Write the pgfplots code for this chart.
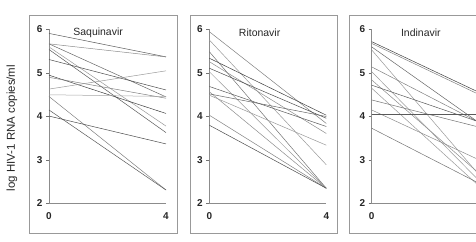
\documentclass[border=0pt]{standalone}
\usepackage{fontspec}
\setmainfont{Liberation Sans}
\usepackage{pgfplots}
\pgfplotsset{compat=1.18}
\pgfplotsset{panel/.style={
  scale only axis, width=117bp, height=174bp,
  xmin=0, xmax=4, ymin=2, ymax=6, anchor=south west,
  axis x line*=bottom, axis y line*=left,
  axis line style={-, draw=black!45, line width=0.8bp},
  xtick={0,4}, ytick={2,3,4,5,6},
  tick align=outside, major tick length=3bp,
  xtick style={draw=none}, ytick style={draw=black!55, line width=0.6bp},
  /pgf/number format/assume math mode=true,
  tick label style={font=\bfseries\fontsize{10}{10}\selectfont, text=black!85},
  xticklabel style={yshift=-3bp},
  clip=false,
  every axis plot/.append style={line width=0.5bp, no marks},
}}
\begin{document}
\begin{tikzpicture}[x=1bp,y=1bp]
\begin{scope}
\clip (0,0) rectangle (476,241);
\draw[black!40, line width=0.8bp] (29,8) rectangle (177,226);
\draw[black!40, line width=0.8bp] (190,8) rectangle (337,226);
\draw[black!40, line width=0.8bp] (349,8) rectangle (530,226);

\begin{axis}[panel, at={(49bp,37.5bp)}]
\addplot[black!65] coordinates {(0,5.91) (4,5.37)};
\addplot[black!45] coordinates {(0,5.67) (4,5.37)};
\addplot[black!60] coordinates {(0,5.67) (4,4.45)};
\addplot[black!40] coordinates {(0,5.60) (4,3.78)};
\addplot[black!65] coordinates {(0,5.54) (4,3.63)};
\addplot[black!70] coordinates {(0,5.31) (4,4.61)};
\addplot[black!75] coordinates {(0,4.95) (4,4.07)};
\addplot[black!50] coordinates {(0,4.90) (4,4.42)};
\addplot[black!40] coordinates {(0,4.63) (4,5.05)};
\addplot[black!35] coordinates {(0,4.50) (4,4.46)};
\addplot[black!50] coordinates {(0,4.46) (4,2.31)};
\addplot[black!65] coordinates {(0,4.15) (4,2.31)};
\addplot[black!70] coordinates {(0,4.01) (4,3.37)};
\node[font=\fontsize{10.5}{11}\selectfont, text=black!85] at (rel axis cs:0.42,0.98) {Saquinavir};
\end{axis}

\begin{axis}[panel, at={(209.3bp,37.5bp)}]
\addplot[black!50] coordinates {(0,5.95) (4,3.84)};
\addplot[black!40] coordinates {(0,5.76) (4,2.89)};
\addplot[black!55] coordinates {(0,5.49) (4,2.35)};
\addplot[black!75] coordinates {(0,5.34) (4,4.03)};
\addplot[black!45] coordinates {(0,5.26) (4,3.61)};
\addplot[black!70] coordinates {(0,5.11) (4,3.96)};
\addplot[black!40] coordinates {(0,5.03) (4,2.35)};
\addplot[black!65] coordinates {(0,4.69) (4,3.77)};
\addplot[black!45] coordinates {(0,4.57) (4,2.35)};
\addplot[black!40] coordinates {(0,4.49) (4,3.34)};
\addplot[black!60] coordinates {(0,4.52) (4,4.00)};
\addplot[black!50] coordinates {(0,4.03) (4,2.35)};
\addplot[black!70] coordinates {(0,3.80) (4,2.35)};
\node[font=\fontsize{10.5}{11}\selectfont, text=black!85] at (rel axis cs:0.43,0.98) {Ritonavir};
\end{axis}

\begin{axis}[panel, at={(371.7bp,37.5bp)}, xtick={0}]
\addplot[black!75] coordinates {(0,5.72) (4,4.45)};
\addplot[black!50] coordinates {(0,5.68) (4,4.40)};
\addplot[black!60] coordinates {(0,5.60) (4,3.70)};
\addplot[black!40] coordinates {(0,5.53) (4,2.40)};
\addplot[black!50] coordinates {(0,5.14) (4,3.75)};
\addplot[black!40] coordinates {(0,5.03) (4,2.30)};
\addplot[black!45] coordinates {(0,4.84) (4,2.50)};
\addplot[black!65] coordinates {(0,4.72) (4,3.80)};
\addplot[black!40] coordinates {(0,4.65) (4,2.20)};
\addplot[black!55] coordinates {(0,4.38) (4,3.70)};
\addplot[black!45] coordinates {(0,4.15) (4,2.90)};
\addplot[black!65] coordinates {(0,4.05) (4,4.05)};
\addplot[black!55] coordinates {(0,3.73) (4,2.35)};
\node[font=\fontsize{10.5}{11}\selectfont, text=black!85] at (rel axis cs:0.42,0.98) {Indinavir};
\end{axis}
\end{scope}
\node[rotate=90, font=\fontsize{11.5}{12}\selectfont, text=black!85] at (12,113) {log HIV-1 RNA copies/ml};
\pgfresetboundingbox
\useasboundingbox (0,0) rectangle (476,241);
\end{tikzpicture}
\end{document}
